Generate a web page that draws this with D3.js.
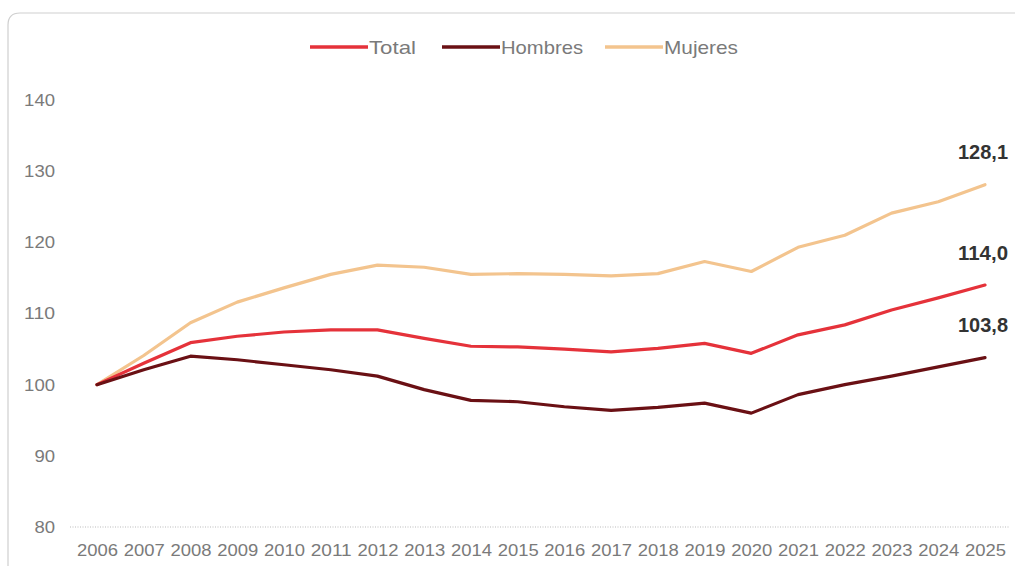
<!DOCTYPE html>
<html><head><meta charset="utf-8">
<script src="https://cdn.jsdelivr.net/npm/d3@7"></script>
<style>
body{margin:0;background:#fff;}
svg{display:block;}
text{font-family:"Liberation Sans",Arial,sans-serif;}
</style></head>
<body><svg id="c" width="1015" height="566"></svg>
<script>
const years = [2006,2007,2008,2009,2010,2011,2012,2013,2014,2015,2016,2017,2018,2019,2020,2021,2022,2023,2024,2025];
const total   = [100,103.0,105.9,106.8,107.4,107.7,107.7,106.5,105.4,105.3,105.0,104.6,105.1,105.8,104.4,107.0,108.4,110.5,112.2,114.0];
const hombres = [100,102.1,104.0,103.5,102.8,102.1,101.2,99.3,97.8,97.6,96.9,96.4,96.8,97.4,96.0,98.6,100.0,101.2,102.5,103.8];
const mujeres = [100,104.1,108.7,111.6,113.6,115.5,116.8,116.5,115.5,115.6,115.5,115.3,115.6,117.3,115.9,119.3,121.0,124.1,125.7,128.1];
const yTicks = [80,90,100,110,120,130,140];
const seriesNames = ["Total","Hombres","Mujeres"];
const endLabels = ["114,0","103,8","128,1"];
const colors = ["#e5323a","#6a1014","#f3c48e"];

const svg = d3.select("#c");
// card border
svg.append("path")
  .attr("d","M8,566 L8,25 Q8,13 20,13 L1015,13")
  .attr("fill","none").attr("stroke","#cfcfcf").attr("stroke-width",1.2);

const x = d3.scalePoint().domain(years).range([97,985]);
const y = d3.scaleLinear().domain([80,140]).range([527,100]);

// baseline
svg.append("line").attr("x1",70).attr("x2",1010).attr("y1",y(80)).attr("y2",y(80))
  .attr("stroke","#bbb").attr("stroke-width",1).attr("stroke-dasharray","1,1.5");

// y axis labels
const ya = svg.append("g").attr("transform","translate(55,0)")
  .call(d3.axisLeft(y).tickValues(yTicks).tickSize(0).tickPadding(0).tickFormat(d3.format("d")));
ya.select(".domain").remove();
ya.selectAll("text").attr("fill","#7a7a7a").style("font-size","17px")
  .attr("font-family","Liberation Sans, Arial, sans-serif")
  .attr("textLength",d=>String(d).length*10.3).attr("lengthAdjust","spacingAndGlyphs");

// x axis labels
const xa = svg.append("g").attr("transform","translate(0,550)")
  .call(d3.axisBottom(x).tickSize(0).tickPadding(0).tickFormat(d3.format("d")));
xa.select(".domain").remove();
xa.selectAll("text").attr("fill","#7a7a7a").attr("dy","0.35em").style("font-size","16px")
  .attr("font-family","Liberation Sans, Arial, sans-serif")
  .attr("textLength",41).attr("lengthAdjust","spacingAndGlyphs");

const data = [total,hombres,mujeres];
const line = d3.line().x((d,i)=>x(years[i])).y(d=>y(d));
[2,0,1].forEach(k=>{
  svg.append("path").datum(data[k]).attr("d",line).attr("fill","none")
    .attr("stroke",colors[k]).attr("stroke-width",3.2).attr("stroke-linejoin","round").attr("stroke-linecap","round");
});

// end labels
const labelOffsets = [-32,-33,-33];
data.forEach((d,k)=>{
  svg.append("text").attr("x",1008).attr("y",y(d[d.length-1])+labelOffsets[k]).attr("dy","0.35em")
    .attr("text-anchor","end").attr("fill","#333").style("font-size","20px").style("font-weight","bold")
    .attr("textLength",50).attr("lengthAdjust","spacingAndGlyphs").text(endLabels[k]);
});

// legend
const legX = [310,442,605];
const legW = [47,82,74];
seriesNames.forEach((n,k)=>{
  svg.append("line").attr("x1",legX[k]).attr("x2",legX[k]+58).attr("y1",47).attr("y2",47)
    .attr("stroke",colors[k]).attr("stroke-width",3.5);
  svg.append("text").attr("x",legX[k]+59).attr("y",47).attr("dy","0.35em").attr("fill","#7a7a7a")
    .style("font-size","19px").attr("textLength",legW[k]).attr("lengthAdjust","spacingAndGlyphs").text(n);
});
</script></body></html>
